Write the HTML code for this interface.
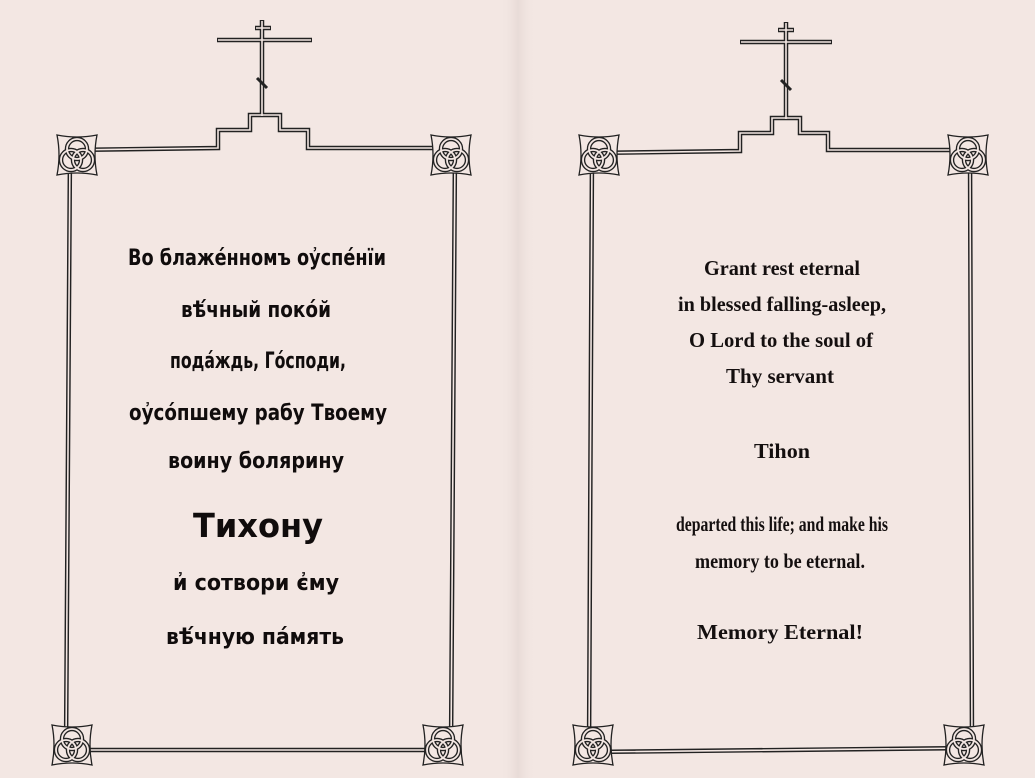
<!DOCTYPE html>
<html><head><meta charset="utf-8"><style>
html,body{margin:0;padding:0;background:#f3e7e3;}
svg{display:block}
.cy{font-family:"DejaVu Sans","Liberation Sans",sans-serif;font-weight:bold;fill:#100c0c;}
.en{font-family:"Liberation Serif",serif;font-weight:bold;fill:#140f0f;}
</style></head><body>
<svg width="1035" height="778" viewBox="0 0 1035 778" xmlns="http://www.w3.org/2000/svg">
<defs>
<linearGradient id="fold" x1="0" x2="1">
<stop offset="0" stop-color="#f3e7e3" stop-opacity="0"/>
<stop offset="0.5" stop-color="#e8dbd7"/>
<stop offset="1" stop-color="#f3e7e3" stop-opacity="0"/>
</linearGradient>
<g id="knot">
<path d="M-20,-20 Q0,-16 20,-20 Q16,0 20,20 Q0,16 -20,20 Q-16,0 -20,-20Z" fill="#f3e7e3" stroke="#222" stroke-width="1.3"/>
<g fill="none" stroke="#222" stroke-width="4.5">
<circle cx="0" cy="-6" r="10"/><circle cx="-6" cy="5" r="10"/><circle cx="6" cy="5" r="10"/>
</g>
<g fill="none" stroke="#f3e7e3" stroke-width="1.8">
<circle cx="0" cy="-6" r="10"/><circle cx="-6" cy="5" r="10"/><circle cx="6" cy="5" r="10"/>
</g>
</g>
</defs>
<rect width="1035" height="778" fill="#f3e7e3"/>
<rect x="500" y="0" width="36" height="778" fill="url(#fold)"/>

<!-- LEFT FRAME -->
<g fill="none" stroke="#222" stroke-width="4.5" stroke-linejoin="miter">
<path d="M70,150 L218,148 L218,130 L250,130 L250,115 L280,115 L280,130 L308,130 L308,148 L455,148 L451,750 L66,750 Z"/>
<path d="M262,20 L262,115 M217,40 L312,40 M255,28 L271,28"/>
</g>
<g fill="none" stroke="#f3e7e3" stroke-width="1.6">
<path d="M70,150 L218,148 L218,130 L250,130 L250,115 L280,115 L280,130 L308,130 L308,148 L455,148 L451,750 L66,750 Z"/>
<path d="M262,21 L262,116 M218,40 L311,40 M256,28 L270,28"/>
</g>
<path d="M257,78 L267,88" stroke="#222" stroke-width="3"/>
<use href="#knot" x="77" y="155"/>
<use href="#knot" x="451" y="155"/>
<use href="#knot" x="72" y="745"/>
<use href="#knot" x="443" y="745"/>

<!-- RIGHT FRAME -->
<g fill="none" stroke="#222" stroke-width="4.5">
<path d="M592,153 L740,151 L740,133 L772,133 L772,118 L800,118 L800,133 L828,133 L828,150 L970,150 L972,748 L589,752 Z"/>
<path d="M786,22 L786,118 M740,42 L832,42 M778,30 L794,30"/>
</g>
<g fill="none" stroke="#f3e7e3" stroke-width="1.6">
<path d="M592,153 L740,151 L740,133 L772,133 L772,118 L800,118 L800,133 L828,133 L828,150 L970,150 L972,748 L589,752 Z"/>
<path d="M786,23 L786,119 M741,42 L831,42 M779,30 L793,30"/>
</g>
<path d="M781,80 L791,90" stroke="#222" stroke-width="3"/>
<use href="#knot" x="599" y="155"/>
<use href="#knot" x="968" y="155"/>
<use href="#knot" x="593" y="745"/>
<use href="#knot" x="964" y="745"/>

<!-- LEFT TEXT -->
<g class="cy" text-anchor="middle" font-size="22">
<text x="257" y="265" textLength="258" lengthAdjust="spacingAndGlyphs">Во блаже́нномъ оу҆спе́нїи</text>
<text x="256" y="317" textLength="150" lengthAdjust="spacingAndGlyphs">вѣ́чный поко́й</text>
<text x="258" y="368" textLength="176" lengthAdjust="spacingAndGlyphs">пода́ждь, Го́споди,</text>
<text x="258" y="420" textLength="258" lengthAdjust="spacingAndGlyphs">оу҆со́пшему рабу Твоему</text>
<text x="256" y="468" textLength="176" lengthAdjust="spacingAndGlyphs">воину   болярину</text>
<text x="258" y="537" font-size="33" textLength="130" lengthAdjust="spacingAndGlyphs">Тихону</text>
<text x="256" y="590" textLength="166" lengthAdjust="spacingAndGlyphs">и҆ сотвори є҆му</text>
<text x="255" y="644" textLength="178" lengthAdjust="spacingAndGlyphs">вѣ́чную па́мять</text>
</g>

<!-- RIGHT TEXT -->
<g class="en" text-anchor="middle" font-size="21">
<text x="782" y="275" textLength="156" lengthAdjust="spacingAndGlyphs">Grant rest eternal</text>
<text x="782" y="311" textLength="208" lengthAdjust="spacingAndGlyphs">in blessed falling-asleep,</text>
<text x="781" y="347" textLength="184" lengthAdjust="spacingAndGlyphs">O Lord to the soul of</text>
<text x="780" y="383" textLength="108" lengthAdjust="spacingAndGlyphs">Thy servant</text>
<text x="782" y="458" textLength="56" lengthAdjust="spacingAndGlyphs">Tihon</text>
<text x="782" y="531" textLength="212" lengthAdjust="spacingAndGlyphs">departed this life; and make his</text>
<text x="780" y="568" textLength="170" lengthAdjust="spacingAndGlyphs">memory to be eternal.</text>
<text x="780" y="639" textLength="166" lengthAdjust="spacingAndGlyphs">Memory Eternal!</text>
</g>
</svg>
</body></html>
